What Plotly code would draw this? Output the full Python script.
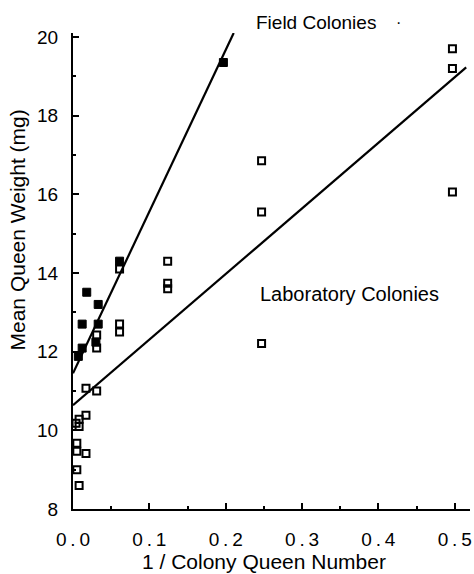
import plotly.graph_objects as go

# Field colonies (filled squares)
field_x = [0.197, 0.061, 0.018, 0.033, 0.012, 0.033, 0.030, 0.012, 0.007]
field_y = [19.35, 14.30, 13.51, 13.20, 12.70, 12.70, 12.24, 12.09, 11.88]

# Laboratory colonies (open squares)
lab_x = [0.061, 0.124, 0.124, 0.124, 0.061, 0.061, 0.031, 0.031, 0.017, 0.031,
         0.017, 0.008, 0.004, 0.008, 0.005, 0.005, 0.017, 0.005, 0.008,
         0.497, 0.497, 0.247, 0.497, 0.247, 0.247]
lab_y = [14.10, 14.30, 13.74, 13.60, 12.70, 12.50, 12.42, 12.09, 11.07, 11.00,
         10.38, 10.28, 10.18, 10.10, 9.67, 9.47, 9.41, 9.00, 8.60,
         19.70, 19.20, 16.85, 16.06, 15.55, 12.21]

# Regression lines (intercept, slope, x extent)
field_fit = (11.45, 41.1, 0.2105)
lab_fit = (10.64, 16.67, 0.515)

x_ticks = [0.0, 0.1, 0.2, 0.3, 0.4, 0.5]
x_ticktext = ["0\u2009.\u20090", "0\u2009.\u20091", "0\u2009.\u20092",
              "0\u2009.\u20093", "0\u2009.\u20094", "0\u2009.\u20095"]
y_ticks = [8, 10, 12, 14, 16, 18, 20]

FONT = "Liberation Sans, Arial, sans-serif"

fig = go.Figure()

for (b0, b1, xe) in (field_fit, lab_fit):
    fig.add_trace(go.Scatter(x=[0, xe], y=[b0, b0 + b1 * xe], mode="lines",
                             line=dict(color="black", width=2.2),
                             showlegend=False, hoverinfo="skip"))

fig.add_trace(go.Scatter(x=lab_x, y=lab_y, mode="markers",
                         marker=dict(symbol="square-open", size=7, color="black",
                                     line=dict(width=2, color="black")),
                         showlegend=False, cliponaxis=False))
fig.add_trace(go.Scatter(x=field_x, y=field_y, mode="markers",
                         marker=dict(symbol="square", size=8, color="black",
                                     line=dict(width=1, color="black")),
                         showlegend=False, cliponaxis=False))

fig.update_layout(
    width=474, height=574,
    margin=dict(l=73, r=2, t=33, b=65),
    plot_bgcolor="white", paper_bgcolor="white",
    font=dict(family=FONT, color="black", size=18),
    xaxis=dict(range=[0, 0.52], showgrid=False, zeroline=False,
               showline=True, linecolor="black", linewidth=2,
               ticks="inside", ticklen=6, tickwidth=1.5, tickcolor="black",
               tickvals=x_ticks, ticktext=x_ticktext, ticklabelstandoff=12,
               minor=dict(dtick=0.05, tick0=0, ticks="inside", ticklen=3,
                          tickcolor="black", tickwidth=1.5),
               tickfont=dict(size=19)),
    yaxis=dict(range=[8, 20.1], showgrid=False, zeroline=False,
               showline=True, linecolor="black", linewidth=2,
               ticks="inside", ticklen=6, tickwidth=1.5, tickcolor="black",
               tickvals=y_ticks, ticklabelstandoff=9,
               minor=dict(dtick=1, tick0=0, ticks="inside", ticklen=3,
                          tickcolor="black", tickwidth=1.5),
               tickfont=dict(size=19)),
    annotations=[
        dict(text="Mean Queen Weight (mg)", xref="paper", yref="paper",
             x=-0.14, y=0.586, textangle=-90, showarrow=False,
             xanchor="center", yanchor="middle", font=dict(size=21)),
        dict(text="1 / Colony Queen Number", xref="paper", yref="paper",
             x=0.481, y=-0.111, showarrow=False,
             xanchor="center", yanchor="middle", font=dict(size=21)),
        dict(text="Field Colonies", x=0.237, y=1.023, xref="x", yref="paper",
             showarrow=False, xanchor="left", yanchor="middle",
             font=dict(size=19)),
        dict(text="·", x=0.426, y=1.023, xref="x", yref="paper",
             showarrow=False, xanchor="center", yanchor="middle",
             font=dict(size=16)),
        dict(text="Laboratory Colonies", x=0.242, y=13.46, xref="x", yref="y",
             showarrow=False, xanchor="left", yanchor="middle",
             font=dict(size=20)),
    ],
)

fig.write_html("out.html")
